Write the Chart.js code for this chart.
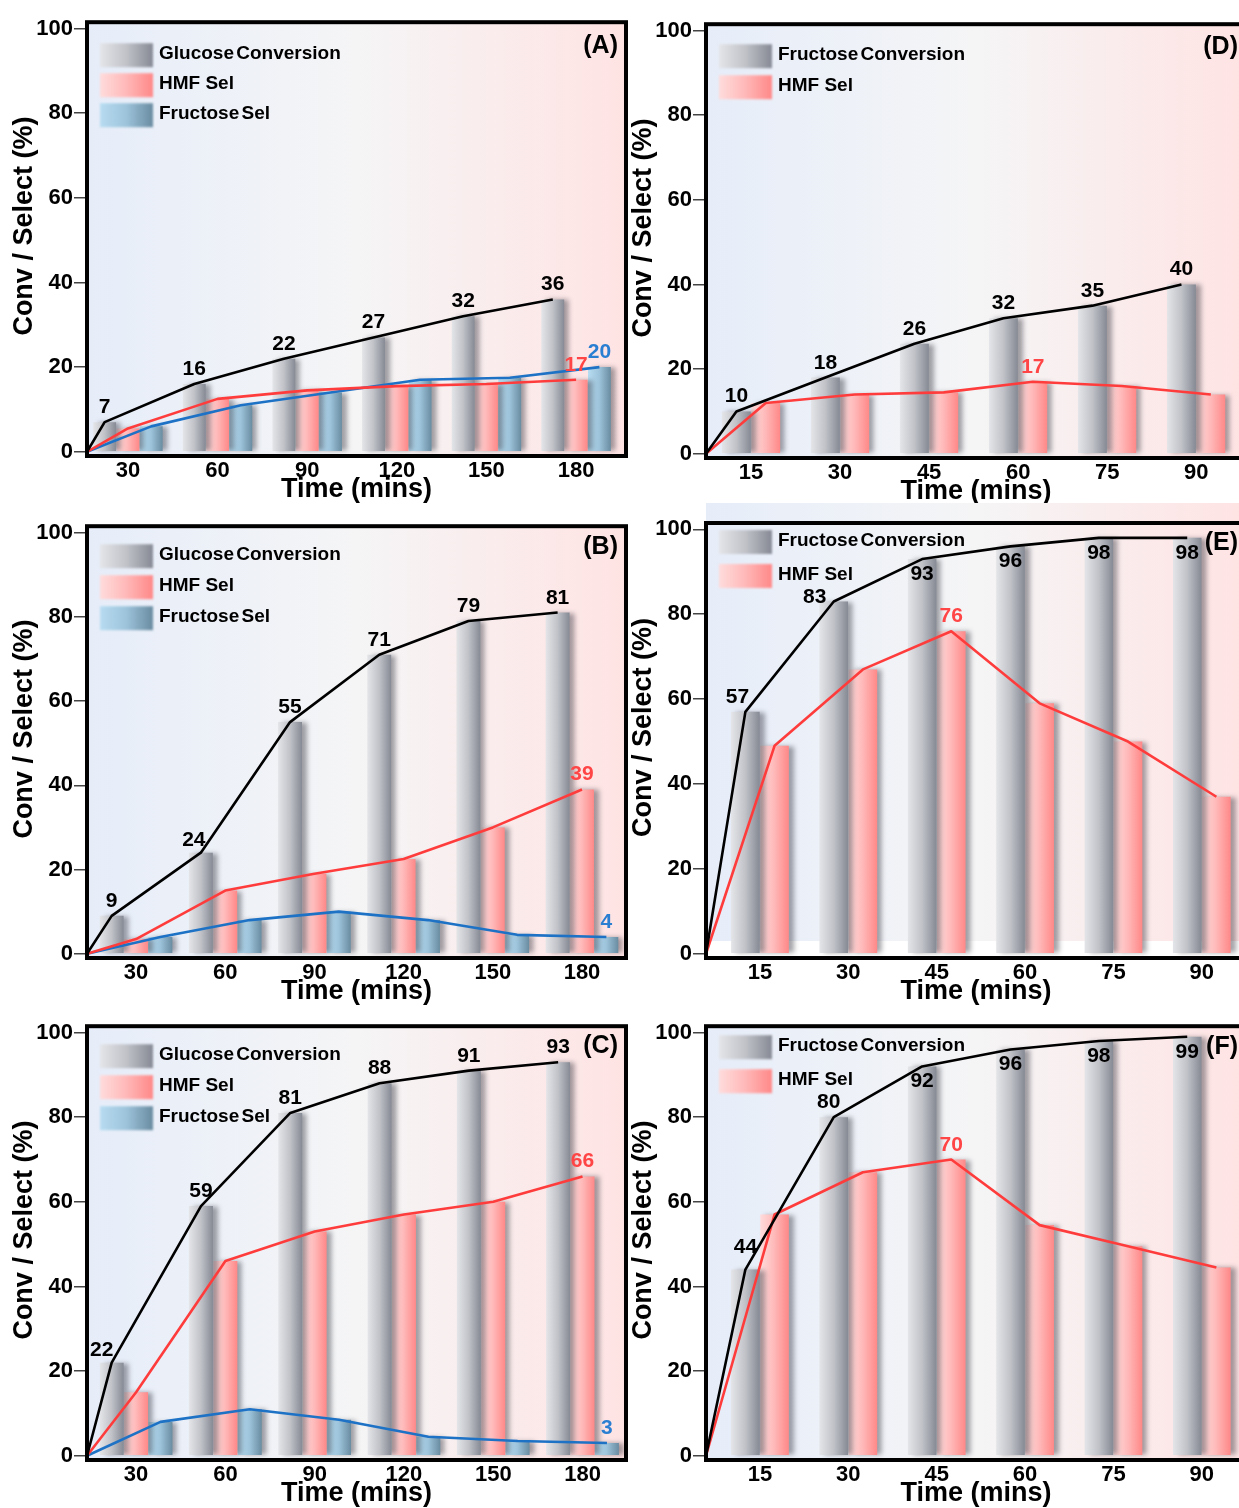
<!DOCTYPE html>
<html>
<head>
<meta charset="utf-8">
<script src="https://cdn.jsdelivr.net/npm/chart.js@4.4.1/dist/chart.umd.min.js"></script>
<style>
  html, body { margin: 0; padding: 0; background: #fff; overflow: hidden; }
  body { width: 1239px; height: 1508px; position: relative; }
  .panel { position: absolute; }
</style>
</head>
<body>
<div id="figure"></div>
<script>
// Time axes
const glucoseTimes = [30, 60, 90, 120, 150, 180];
const fructoseTimes = [15, 30, 45, 60, 75, 90];
const yTicks = [0, 20, 40, 60, 80, 100];

// (A)-(C) glucose runs
const glucoseConvA = [7, 16, 22, 27, 32, 36];
const hmfSelA = [5.5, 12.5, 14.5, 15.5, 16, 17];
const fructoseSelA = [6, 11, 14, 17, 17.5, 20];

const glucoseConvB = [9, 24, 55, 71, 79, 81];
const hmfSelB = [3.5, 15, 19, 22.5, 30, 39];
const fructoseSelB = [4, 8, 10, 8, 4.5, 4];

const glucoseConvC = [22, 59, 81, 88, 91, 93];
const hmfSelC = [15, 46, 53, 57, 60, 66];
const fructoseSelC = [8, 11, 8.5, 4.5, 3.5, 3];

// (D)-(F) fructose runs
const fructoseConvD = [10, 18, 26, 32, 35, 40];
const hmfSelD = [12, 14, 14.5, 17, 16, 14];

const fructoseConvE = [57, 83, 93, 96, 98, 98];
const hmfSelE = [49, 67, 76, 59, 50, 37];

const fructoseConvF = [44, 80, 92, 96, 98, 99];
const hmfSelF = [57, 67, 70, 54.5, 49.5, 44.5];

const FONT = "'Liberation Sans', Arial, sans-serif";

// bar gradients, line and label colours per series
const seriesStyle = {
  conv: { stops: ["#e4e5e8", "#c0c2c8", "#868a94"], line: "#000000", label: "#000000", tight: true },
  hmf: { stops: ["#ffdcdc", "#ffb8b8", "#ff8888"], line: "#ff3c3c", label: "#ff4545", tight: false },
  fru: { stops: ["#b8ddf2", "#9cc3da", "#6a8ca1"], line: "#1d72c6", label: "#2a7fd2", tight: true },
};

const panels = [
  {
    letter: "(A)", times: glucoseTimes,
    area: { left: 87, right: 626, top: 18, bottom: 456 },
    xMin: 16.3, xMax: 196.7, catPct: 0.78,
    series: [
      ["Glucose Conversion", glucoseConvA, "conv", "all"],
      ["HMF Sel", hmfSelA, "hmf", "last"],
      ["Fructose Sel", fructoseSelA, "fru", "last"],
    ],
    legendTop: 33, legendGap: 30, letterY: 24,
  },
  {
    letter: "(B)", times: glucoseTimes,
    area: { left: 87, right: 626, top: 522, bottom: 958 },
    xMin: 13.5, xMax: 194.8, catPct: 0.82,
    series: [
      ["Glucose Conversion", glucoseConvB, "conv", "all"],
      ["HMF Sel", hmfSelB, "hmf", "last"],
      ["Fructose Sel", fructoseSelB, "fru", "last"],
    ],
    legendTop: 30, legendGap: 31, letterY: 21,
    nudge: { "0-1": [-7, 2] },
  },
  {
    letter: "(C)", times: glucoseTimes,
    area: { left: 87, right: 626, top: 1022, bottom: 1460 },
    xMin: 13.5, xMax: 194.6, catPct: 0.82,
    series: [
      ["Glucose Conversion", glucoseConvC, "conv", "all"],
      ["HMF Sel", hmfSelC, "hmf", "last"],
      ["Fructose Sel", fructoseSelC, "fru", "last"],
    ],
    legendTop: 30, legendGap: 31, letterY: 20,
    nudge: { "0-0": [-10, 2] },
  },
  {
    letter: "(D)", times: fructoseTimes,
    area: { left: 706, right: 1246, top: 20, bottom: 458 },
    xMin: 7.4, xMax: 98.4, catPct: 0.66,
    series: [
      ["Fructose Conversion", fructoseConvD, "conv", "all"],
      ["HMF Sel", hmfSelD, "hmf", "max"],
    ],
    legendTop: 32, legendGap: 31, letterY: 23,
  },
  {
    letter: "(E)", times: fructoseTimes,
    area: { left: 706, right: 1246, top: 523, bottom: 958 },
    xMin: 5.84, xMax: 97.5, catPct: 0.66,
    series: [
      ["Fructose Conversion", fructoseConvE, "conv", "all"],
      ["HMF Sel", hmfSelE, "hmf", "max"],
    ],
    legendTop: 19, legendGap: 34, letterY: 20,
    labelBelowFrom: 92, padTop: 25, bgTop: -20, bgBottom: -17,
    nudge: { "0-0": [-8, 0], "0-1": [-19, 10] },
  },
  {
    letter: "(F)", times: fructoseTimes,
    area: { left: 706, right: 1246, top: 1022, bottom: 1460 },
    xMin: 5.84, xMax: 97.5, catPct: 0.66,
    series: [
      ["Fructose Conversion", fructoseConvF, "conv", "all"],
      ["HMF Sel", hmfSelF, "hmf", "max"],
    ],
    legendTop: 21, legendGap: 34, letterY: 21,
    labelBelowFrom: 92,
    nudge: { "0-0": [0, -8], "0-1": [-5, 0] },
  },
];

const Y_AXIS_W = 87;
const X_AXIS_H = 52;
const PAD_RIGHT = 14;

function labelIndices(values, mode) {
  if (mode === "all") return values.map((v, i) => i);
  if (mode === "last") return [values.length - 1];
  if (mode === "max") return [values.indexOf(Math.max(...values))];
  return [];
}

function hGradient(ctx, x0, x1, stops) {
  const g = ctx.createLinearGradient(x0, 0, x1, 0);
  g.addColorStop(0, stops[0]);
  g.addColorStop(0.5, stops[1]);
  g.addColorStop(1, stops[2]);
  return g;
}

function decorPlugin(panel) {
  return {
    id: "decor",
    beforeDraw(chart) {
      const { ctx, chartArea: a } = chart;
      const top = a.top + (panel.bgTop || 0);
      const bottom = a.bottom + (panel.bgBottom || 0);
      const g = ctx.createLinearGradient(a.left, 0, a.right, 0);
      g.addColorStop(0, "#e6edf9");
      g.addColorStop(0.5, "#f5f5f6");
      g.addColorStop(1, "#ffe3e3");
      ctx.save();
      ctx.fillStyle = g;
      ctx.fillRect(a.left, top, a.right - a.left, bottom - top);
      ctx.restore();
    },
    beforeDatasetsDraw(chart) {
      const ctx = chart.ctx;
      chart.data.datasets.forEach((ds, di) => {
        const stops = seriesStyle[ds.seriesKey].stops;
        chart.getDatasetMeta(di).data.forEach((el) => {
          const half = el.width / 2;
          el.options.backgroundColor = hGradient(ctx, el.x - half, el.x + half, stops);
        });
      });
    },
    beforeDatasetDraw(chart) {
      // soft shadow on the right of every bar
      const ctx = chart.ctx;
      ctx.save();
      ctx.shadowColor = "rgba(50,50,60,0.45)";
      ctx.shadowBlur = 5;
      ctx.shadowOffsetX = 5;
      ctx.shadowOffsetY = 0;
    },
    afterDatasetDraw(chart) {
      chart.ctx.restore();
    },
    afterDatasetsDraw(chart) {
      const { ctx, chartArea: a, scales } = chart;
      const y0 = scales.y.getPixelForValue(0);
      const sets = chart.data.datasets;

      // connecting lines from the origin through each bar top
      for (let di = sets.length - 1; di >= 0; di--) {
        const meta = chart.getDatasetMeta(di);
        ctx.save();
        ctx.strokeStyle = seriesStyle[sets[di].seriesKey].line;
        ctx.lineWidth = 2.6;
        ctx.lineJoin = "round";
        ctx.beginPath();
        ctx.moveTo(a.left, y0);
        meta.data.forEach((el) => ctx.lineTo(el.x, el.y));
        ctx.stroke();
        ctx.restore();
      }

      // value labels
      ctx.save();
      ctx.font = "bold 21px " + FONT;
      ctx.textAlign = "center";
      ctx.textBaseline = "alphabetic";
      sets.forEach((ds, di) => {
        const meta = chart.getDatasetMeta(di);
        const values = panel.series[di][1];
        ctx.fillStyle = seriesStyle[ds.seriesKey].label;
        labelIndices(values, panel.series[di][3]).forEach((i) => {
          const el = meta.data[i];
          const below = panel.labelBelowFrom && values[i] >= panel.labelBelowFrom;
          const n = (panel.nudge && panel.nudge[di + "-" + i]) || [0, 0];
          ctx.fillText(String(values[i]), el.x + n[0], (below ? el.y + 21 : el.y - 9) + n[1]);
        });
      });
      ctx.restore();
    },
    afterDraw(chart) {
      const { ctx, chartArea: a } = chart;

      // y axis title, a little above the middle as in the original
      ctx.save();
      ctx.translate(25, (a.top + a.bottom) / 2 - 13);
      ctx.rotate(-Math.PI / 2);
      ctx.fillStyle = "#000";
      ctx.font = "bold 27px " + FONT;
      ctx.textAlign = "center";
      ctx.textBaseline = "middle";
      ctx.fillText("Conv / Select (%)", 0, 0);
      ctx.restore();

      // legend inside the plot
      ctx.save();
      panel.series.forEach(([label, , key], i) => {
        const cy = a.top + panel.legendTop + i * panel.legendGap;
        const x0 = a.left + 13;
        ctx.save();
        ctx.filter = "blur(1px)";
        ctx.fillStyle = hGradient(ctx, x0, x0 + 53, seriesStyle[key].stops);
        ctx.fillRect(x0, cy - 12, 53, 24);
        ctx.restore();
        ctx.fillStyle = "#000";
        ctx.font = "bold 19px " + FONT;
        ctx.textAlign = "left";
        ctx.textBaseline = "middle";
        ctx.wordSpacing = seriesStyle[key].tight ? "-3px" : "0px";
        ctx.fillText(label, a.left + 72, cy - 1);
      });
      ctx.restore();

      // panel letter
      ctx.save();
      ctx.fillStyle = "#000";
      ctx.font = "bold 25px " + FONT;
      ctx.textAlign = "right";
      ctx.textBaseline = "middle";
      ctx.fillText(panel.letter, a.right - 8, a.top + panel.letterY);
      ctx.restore();

      // frame
      ctx.save();
      ctx.strokeStyle = "#000";
      ctx.lineWidth = 4;
      ctx.strokeRect(a.left, a.top, a.right - a.left, a.bottom - a.top);
      ctx.restore();
    },
  };
}

function buildPanel(panel) {
  const padTop = panel.padTop || 10;
  const a = panel.area;
  const wrap = document.createElement("div");
  wrap.className = "panel";
  wrap.style.left = a.left - Y_AXIS_W + "px";
  wrap.style.top = a.top - padTop + "px";
  const canvas = document.createElement("canvas");
  canvas.width = a.right - a.left + Y_AXIS_W + PAD_RIGHT;
  canvas.height = a.bottom - a.top + padTop + X_AXIS_H;
  wrap.appendChild(canvas);
  document.getElementById("figure").appendChild(wrap);

  new Chart(canvas.getContext("2d"), {
    type: "bar",
    data: {
      datasets: panel.series.map(([label, values, key]) => ({
        label: label,
        seriesKey: key,
        data: panel.times.map((t, i) => ({ x: t, y: values[i] })),
        backgroundColor: () => seriesStyle[key].stops[1],
        borderWidth: 0,
        categoryPercentage: panel.catPct,
        barPercentage: 0.98,
      })),
    },
    options: {
      responsive: false,
      animation: false,
      events: [],
      layout: { padding: { left: 0, right: PAD_RIGHT, top: padTop, bottom: 0 } },
      scales: {
        x: {
          type: "linear",
          offset: false,
          min: panel.xMin,
          max: panel.xMax,
          afterBuildTicks: (s) => { s.ticks = panel.times.map((v) => ({ value: v })); },
          afterFit: (s) => { s.height = X_AXIS_H; },
          grid: { display: false, drawTicks: false },
          border: { display: false },
          ticks: {
            autoSkip: false, maxRotation: 0, padding: 2, color: "#000",
            font: { family: FONT, size: 22, weight: "bold" },
          },
          title: {
            display: true, text: "Time (mins)", color: "#000",
            font: { family: FONT, size: 27, weight: "bold" },
            padding: { top: 0, bottom: 2 },
          },
        },
        y: {
          min: -1,
          max: 101.5,
          afterBuildTicks: (s) => { s.ticks = yTicks.map((v) => ({ value: v })); },
          afterFit: (s) => { s.width = Y_AXIS_W; },
          grid: { drawOnChartArea: false, drawTicks: true, tickLength: 13, color: "#444", lineWidth: 1.5 },
          border: { display: false },
          ticks: {
            padding: 1, color: "#000",
            font: { family: FONT, size: 22, weight: "bold" },
          },
          title: { display: false },
        },
      },
      plugins: { legend: { display: false }, tooltip: { enabled: false } },
    },
    plugins: [decorPlugin(panel)],
  });
}

panels.forEach(buildPanel);
</script>
</body>
</html>
